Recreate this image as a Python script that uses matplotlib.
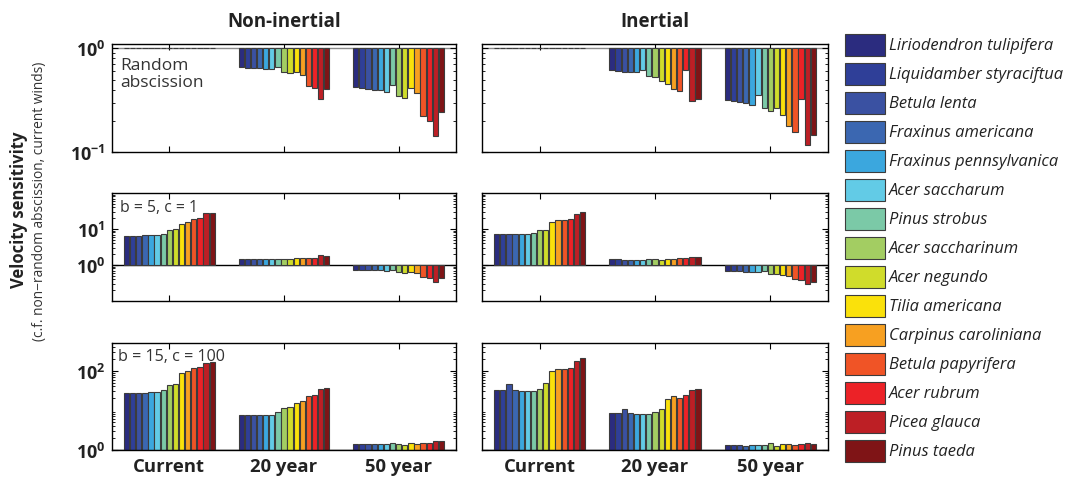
import numpy as np
import matplotlib
matplotlib.use("Agg")
import matplotlib.pyplot as plt
from matplotlib.patches import Rectangle
from matplotlib.ticker import LogLocator, NullFormatter

plt.rcParams['font.family'] = ['Open Sans', 'DejaVu Sans']
plt.rcParams['mathtext.fontset'] = 'custom'
plt.rcParams['mathtext.bf'] = 'Open Sans:bold'
plt.rcParams['mathtext.rm'] = 'Open Sans'

species = ["Liriodendron tulipifera", "Liquidamber styraciftua", "Betula lenta",
           "Fraxinus americana", "Fraxinus pennsylvanica", "Acer saccharum",
           "Pinus strobus", "Acer saccharinum", "Acer negundo", "Tilia americana",
           "Carpinus caroliniana", "Betula papyrifera", "Acer rubrum",
           "Picea glauca", "Pinus taeda"]
colors = ["#2b2c7f", "#2f3f98", "#3a51a2", "#3b67b1", "#3ba7de", "#62cbe6",
          "#7bc9a7", "#a3cd62", "#d0dc2b", "#fae10b", "#f7a021", "#f05426",
          "#ec2227", "#bd1f25", "#7f1416"]
periods = ["Current", "20 year", "50 year"]

# random abscission (rows: current, 20 year, 50 year)
rand_non = [
    [1.0] * 15,
    [0.656, 0.652, 0.652, 0.642, 0.637, 0.628, 0.662, 0.588, 0.575, 0.588, 0.554, 0.431, 0.412, 0.328, 0.406],
    [0.422, 0.412, 0.409, 0.397, 0.392, 0.380, 0.438, 0.345, 0.331, 0.412, 0.372, 0.222, 0.197, 0.144, 0.243],
]
rand_in = [
    [1.0] * 15,
    [0.612, 0.599, 0.595, 0.590, 0.586, 0.617, 0.544, 0.532, 0.486, 0.455, 0.407, 0.384, 0.612, 0.312, 0.326],
    [0.319, 0.312, 0.303, 0.296, 0.285, 0.353, 0.267, 0.251, 0.263, 0.225, 0.180, 0.156, 0.326, 0.117, 0.145],
]

# b = 5, c = 1
b5_non = [
    [6.50, 6.50, 6.50, 6.64, 6.79, 6.93, 7.40, 9.38, 9.79, 13.8, 15.4, 18.7, 19.9, 27.5, 28.1],
    [1.51, 1.51, 1.51, 1.47, 1.47, 1.47, 1.47, 1.51, 1.47, 1.54, 1.57, 1.57, 1.61, 1.87, 1.83],
    [0.724, 0.724, 0.724, 0.709, 0.709, 0.694, 0.740, 0.637, 0.610, 0.637, 0.597, 0.461, 0.423, 0.334, 0.432],
]
b5_in = [
    [7.08, 7.08, 7.08, 7.24, 7.24, 7.40, 7.56, 9.38, 9.38, 16.1, 17.5, 18.3, 19.5, 26.9, 30.0],
    [1.44, 1.44, 1.41, 1.38, 1.38, 1.38, 1.51, 1.44, 1.41, 1.51, 1.51, 1.57, 1.57, 1.68, 1.68],
    [0.664, 0.664, 0.664, 0.650, 0.637, 0.623, 0.694, 0.571, 0.547, 0.524, 0.492, 0.414, 0.380, 0.300, 0.334],
]

# b = 15, c = 100
b15_non = [
    [27.0, 27.5, 27.5, 28.0, 28.6, 29.1, 32.7, 44.5, 46.3, 85.7, 96.2, 114, 121, 159, 165],
    [7.42, 7.42, 7.42, 7.42, 7.56, 7.86, 9.17, 11.6, 12.0, 15.7, 17.7, 23.1, 24.5, 34.7, 36.7],
    [1.44, 1.44, 1.44, 1.44, 1.41, 1.41, 1.53, 1.39, 1.36, 1.47, 1.44, 1.50, 1.50, 1.65, 1.65],
]
b15_in = [
    [32.7, 32.7, 46.3, 33.3, 30.3, 30.3, 31.5, 35.3, 48.1, 96.2, 112, 108, 119, 175, 204],
    [8.49, 8.49, 10.7, 8.49, 8.01, 8.01, 8.17, 8.83, 10.7, 19.1, 22.7, 21.0, 24.0, 32.1, 35.3],
    [1.31, 1.31, 1.31, 1.29, 1.36, 1.36, 1.36, 1.50, 1.29, 1.39, 1.41, 1.34, 1.39, 1.50, 1.44],
]

W, H = 1067, 481
fig = plt.figure(figsize=(W / 100, H / 100), dpi=100)


def px_axes(x0, y0, x1, y1):
    return fig.add_axes([x0 / W, 1 - y1 / H, (x1 - x0) / W, (y1 - y0) / H])


col_x = [(112, 456), (482, 828)]
row_y = [(45, 153), (194, 302), (344, 451)]
row_data = [(rand_non, rand_in), (b5_non, b5_in), (b15_non, b15_in)]
row_ylim = [(0.1, 1.1), (0.1, 100), (1, 500)]
row_ticks = [[0.1, 1], [1, 10], [1, 100]]
row_ticklabels = [[r'$\mathbf{10^{-1}}$', r'$\mathbf{10^{0}}$'],
                  [r'$\mathbf{10^{0}}$', r'$\mathbf{10^{1}}$'],
                  [r'$\mathbf{10^{0}}$', r'$\mathbf{10^{2}}$']]
base_color = ["#8a8a8a", "black", "black"]

slot = 0.8 / 15
bw = slot * 0.86
offsets = (np.arange(15) - 7) * slot

for r in range(3):
    for c in range(2):
        ax = px_axes(col_x[c][0], row_y[r][0], col_x[c][1], row_y[r][1])
        ax.set_yscale('log')
        data = row_data[r][c]
        ax.axhline(1, color=base_color[r], lw=1.0, zorder=1)
        for g in range(3):
            vals = np.array(data[g])
            ax.bar(g + 1 + offsets, vals - 1, bottom=1, width=bw, color=colors,
                   edgecolor="#3c3c3c", linewidth=0.8, zorder=2)
        ax.set_xlim(0.5, 3.5)
        ax.set_ylim(*row_ylim[r])
        ax.set_xticks([1, 2, 3])
        if r == 2:
            ax.set_xticklabels(periods, fontsize=13.3, fontweight='bold', color="#222222")
        else:
            ax.set_xticklabels([])
        ax.set_yticks(row_ticks[r])
        ax.yaxis.set_minor_locator(LogLocator(base=10, subs=np.arange(2, 10)))
        ax.yaxis.set_minor_formatter(NullFormatter())
        if c == 0:
            ax.set_yticklabels(row_ticklabels[r], fontsize=13, color="#222222")
        else:
            ax.set_yticklabels([])
        ax.tick_params(which='both', direction='in', top=True, right=True)
        ax.tick_params(which='major', length=4, width=0.8, pad=5)
        ax.tick_params(which='minor', length=2, width=0.6)
        ax.tick_params(axis='x', pad=5)
        for s in ax.spines.values():
            s.set_linewidth(1.0)
        if c == 0 and r == 0:
            ax.text(0.023, 0.88, "Random\nabscission", transform=ax.transAxes,
                    fontsize=12.5, color="#333333", va='top', ha='left', linespacing=1.1)
        if c == 0 and r == 1:
            ax.text(0.022, 0.94, "b = 5, c = 1", transform=ax.transAxes,
                    fontsize=11.3, color="#333333", va='top', ha='left')
        if c == 0 and r == 2:
            ax.text(0.016, 0.95, "b = 15, c = 100", transform=ax.transAxes,
                    fontsize=11.6, color="#333333", va='top', ha='left')

fig.text(284 / W, 1 - 22 / H, "Non-inertial", ha='center', va='center',
         fontsize=13.5, fontweight='bold', color="#222222")
fig.text(655 / W, 1 - 22 / H, "Inertial", ha='center', va='center',
         fontsize=13.5, fontweight='bold', color="#222222")
fig.text(19 / W, 1 - 210 / H, "Velocity sensitivity", rotation=90, ha='center',
         va='center', fontsize=12, fontweight='bold', color="#222222")
fig.text(40 / W, 1 - 201 / H, "(c.f. non\u2212random abscission, current winds)",
         rotation=90, ha='center', va='center', fontsize=9.9, color="#333333")

# species key: swatches stacked down the right-hand side
for i, (name, col) in enumerate(zip(species, colors)):
    top = 35 + 29 * i
    fig.patches.append(Rectangle((845 / W, 1 - (top + 22) / H), 40 / W, 22 / H,
                                 transform=fig.transFigure, facecolor=col,
                                 edgecolor="#3c3c3c", linewidth=0.8))
    fig.text(889 / W, 1 - (top + 11) / H, name, ha='left', va='center',
             fontsize=11.9, style='italic', color="#222222")

fig.savefig("out.png", dpi=100)
